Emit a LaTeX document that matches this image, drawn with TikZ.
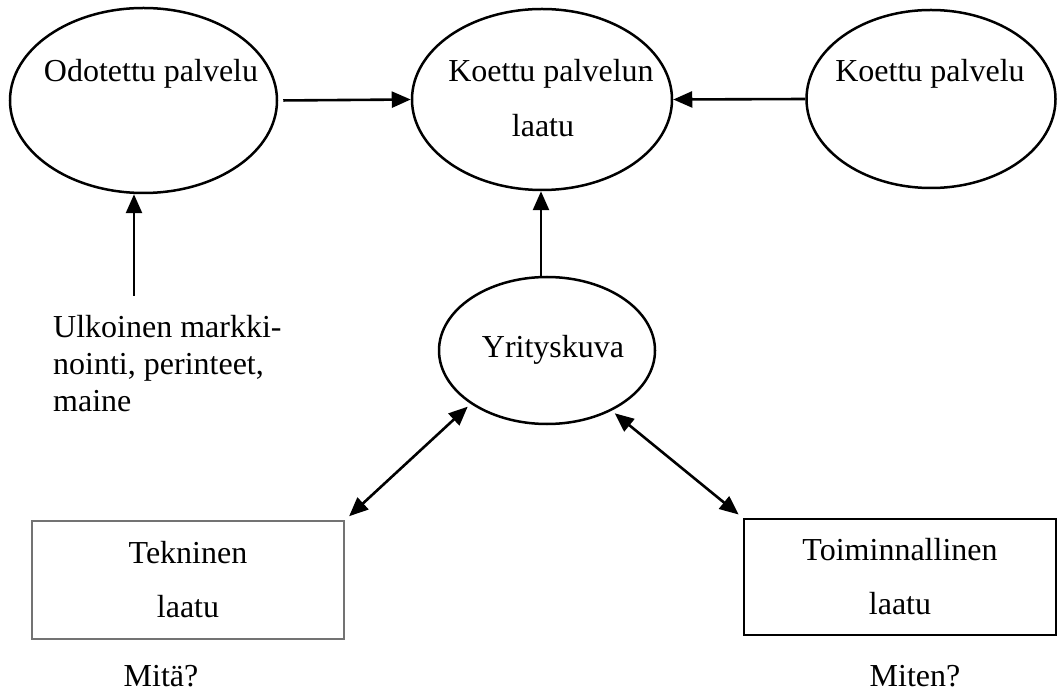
\documentclass[tikz,border=0pt]{standalone}
\usepackage{fontspec}
\setmainfont{Liberation Serif}
\usetikzlibrary{shapes.geometric,arrows.meta}

\begin{document}
\begin{tikzpicture}[x=1pt,y=-1pt,
  every node/.style={font=\fontsize{32}{37}\selectfont,inner sep=0pt},
  oval/.style={draw,ellipse,line width=2.5pt},
  laatikko/.style={draw,rectangle,line width=1.4pt,align=center,
    font=\fontsize{32}{54}\selectfont},
  nuoli/.style={line width=2.6pt,-{Triangle[length=19pt,width=16pt]}},
  kaksi/.style={line width=2.6pt,
    {Triangle[length=19pt,width=16pt]}-{Triangle[length=19pt,width=16pt]}}]

  \useasboundingbox (0,0) rectangle (1057,692);

  % ylarivi
  \node[oval,minimum width=267pt,minimum height=185pt] (odot) at (143.5,100.5) {};
  \node[anchor=base] (odotT) at (151,82) {Odotettu palvelu};

  \node[oval,minimum width=260pt,minimum height=181pt] (laatu) at (542,99.5) {};
  \node[anchor=base] (laatuT) at (551,82) {Koettu palvelun};
  \node[anchor=base] (laatuT2) at (543,137) {laatu};

  \node[oval,minimum width=249pt,minimum height=178pt] (koettu) at (931,99) {};
  \node[anchor=base] (koettuT) at (930,82) {Koettu palvelu};

  \draw[nuoli,shorten <=5pt] (odot.east) -- (laatu.west);
  \draw[nuoli] (koettu.west) -- (laatu.east);

  % ulkoinen markkinointi
  \node[anchor=base west,align=left] (ulk) at (53,411)
    {Ulkoinen markki-\\nointi, perinteet,\\maine};
  \coordinate (ulkA) at (134,296);
  \draw[nuoli] (ulkA) -- (ulkA |- odot.south);

  % yrityskuva
  \node[oval,minimum width=216pt,minimum height=147pt] (yritys) at (547,350.5) {};
  \node[anchor=base] (yritysT) at (553,358) {Yrityskuva};
  \draw[nuoli] ([xshift=-6pt]yritys.north) -- ([xshift=-6pt]yritys.north |- laatu.south);

  % laatu
  \node[laatikko,draw=black!55,minimum width=312pt,minimum height=118pt] (tek) at (188,580)
    {Tekninen\\laatu};
  \node[laatikko,minimum width=312pt,minimum height=116pt] (toim) at (900,577)
    {Toiminnallinen\\laatu};
  \draw[kaksi,shorten <=4pt,shorten >=6pt] (yritys.215) -- (tek.north east);
  \draw[kaksi,shorten <=4pt,shorten >=6pt] (yritys.317) -- (toim.north west);

  \node[anchor=base] (mita) at (161,686) {Mitä?};
  \node[anchor=base] (miten) at (915,686) {Miten?};

\end{tikzpicture}
\end{document}
